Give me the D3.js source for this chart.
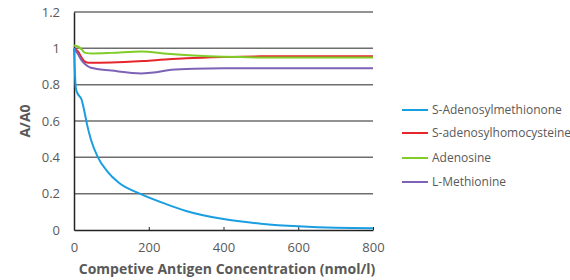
<!DOCTYPE html>
<html>
<head>
<meta charset="utf-8">
<script src="https://cdn.jsdelivr.net/npm/d3@7"></script>
<style>
body { margin: 0; background: #fff; }
text { font-family: "Open Sans", "DejaVu Sans", sans-serif; }
</style>
</head>
<body>
<div id="chart"></div>
<script>
var seriesNames = ["S-Adenosylmethionone", "S-adenosylhomocysteine", "Adenosine", "L-Methionine"];
var seriesColors = ["#1a9ee2", "#e5262b", "#80cc28", "#7e62b6"];

var samX = [0, 5, 10, 20, 25, 30, 35, 45, 64, 90, 120, 176, 250, 300, 400, 500, 600, 700, 800];
var samY = [1.0, 0.78, 0.75, 0.72, 0.68, 0.63, 0.58, 0.5, 0.4, 0.32, 0.26, 0.2, 0.14, 0.105, 0.06, 0.035, 0.02, 0.012, 0.01];

var sahX = [0, 10, 20, 30, 40, 100, 200, 300, 400, 500, 600, 800];
var sahY = [1.0, 0.985, 0.95, 0.925, 0.92, 0.922, 0.932, 0.945, 0.952, 0.956, 0.957, 0.957];

var adoX = [0, 10, 20, 30, 50, 100, 180, 250, 320, 400, 500, 800];
var adoY = [1.015, 1.01, 0.995, 0.975, 0.972, 0.975, 0.983, 0.97, 0.96, 0.953, 0.95, 0.95];

var metX = [0, 10, 20, 30, 45, 100, 180, 220, 260, 320, 400, 800];
var metY = [1.0, 0.97, 0.935, 0.912, 0.893, 0.878, 0.862, 0.868, 0.882, 0.888, 0.89, 0.89];

var xTicks = [0, 200, 400, 600, 800];
var yTicks = [0, 0.2, 0.4, 0.6, 0.8, 1, 1.2];

var allX = [samX, sahX, adoX, metX];
var allY = [samY, sahY, adoY, metY];

var width = 570;
var height = 280;
var plotLeft = 74, plotRight = 373, plotTop = 12, plotBottom = 230;

var svg = d3.select("#chart")
    .append("svg")
    .attr("width", width)
    .attr("height", height);

var x = d3.scaleLinear().domain([0, 800]).range([plotLeft, plotRight]);
var y = d3.scaleLinear().domain([0, 1.2]).range([plotBottom, plotTop]);

// gridlines
svg.selectAll("line.grid")
    .data(yTicks.filter(function(d) { return d > 0; }))
    .enter()
    .append("line")
    .attr("x1", plotLeft)
    .attr("x2", plotRight)
    .attr("y1", function(d) { return y(d); })
    .attr("y2", function(d) { return y(d); })
    .attr("stroke", "#6e6e6e")
    .attr("stroke-width", 1.5);

// y axis
svg.append("g")
    .attr("transform", "translate(" + plotLeft + ",0)")
    .call(d3.axisLeft(y).tickValues(yTicks).tickSize(0).tickPadding(14)
        .tickFormat(function(d) { return String(+d.toFixed(1)); }))
    .call(function(g) {
        g.select(".domain").attr("stroke", "#222").attr("stroke-width", 1.5);
        g.selectAll("text").attr("fill", "#595959").attr("font-size", "13px")
            .style("font-family", "'Open Sans', sans-serif");
    });

// x axis
svg.append("g")
    .attr("transform", "translate(0," + plotBottom + ")")
    .call(d3.axisTop(x).tickValues(xTicks).tickSize(3).tickSizeOuter(0))
    .call(function(g) {
        g.select(".domain").attr("stroke", "#222").attr("stroke-width", 1.5);
        g.selectAll(".tick line").attr("stroke", "#222");
        g.selectAll("text")
            .attr("y", 22)
            .attr("dy", 0)
            .attr("fill", "#595959")
            .attr("font-size", "13px")
            .style("font-family", "'Open Sans', sans-serif");
    });

// lines
var line = d3.line()
    .x(function(d) { return x(d[0]); })
    .y(function(d) { return y(d[1]); })
    .curve(d3.curveMonotoneX);

[1, 2, 3, 0].forEach(function(i) {
    var pts = allX[i].map(function(v, j) { return [v, allY[i][j]]; });
    svg.append("path")
        .datum(pts)
        .attr("d", line)
        .attr("fill", "none")
        .attr("stroke", seriesColors[i])
        .attr("stroke-width", 2);
});

// legend
var legendY = [110, 133, 158, 182];
var legend = svg.selectAll("g.legend")
    .data(seriesNames)
    .enter()
    .append("g")
    .attr("transform", function(d, i) { return "translate(402," + legendY[i] + ")"; });

legend.append("line")
    .attr("x1", 0)
    .attr("x2", 26)
    .attr("stroke", function(d, i) { return seriesColors[i]; })
    .attr("stroke-width", 2);

legend.append("text")
    .attr("x", 30)
    .attr("dy", "0.35em")
    .attr("font-size", "12px")
    .attr("fill", "#595959")
    .text(function(d) { return d; });

// axis titles
svg.append("text")
    .attr("x", 227)
    .attr("y", 274)
    .attr("text-anchor", "middle")
    .attr("font-size", "14px")
    .attr("font-weight", "bold")
    .attr("fill", "#595959")
    .text("Competive Antigen Concentration (nmol/l)");

svg.append("text")
    .attr("transform", "translate(30,121) rotate(-90)")
    .attr("text-anchor", "middle")
    .attr("font-size", "14px")
    .attr("font-weight", "bold")
    .attr("fill", "#595959")
    .text("A/A0");
</script>
</body>
</html>
